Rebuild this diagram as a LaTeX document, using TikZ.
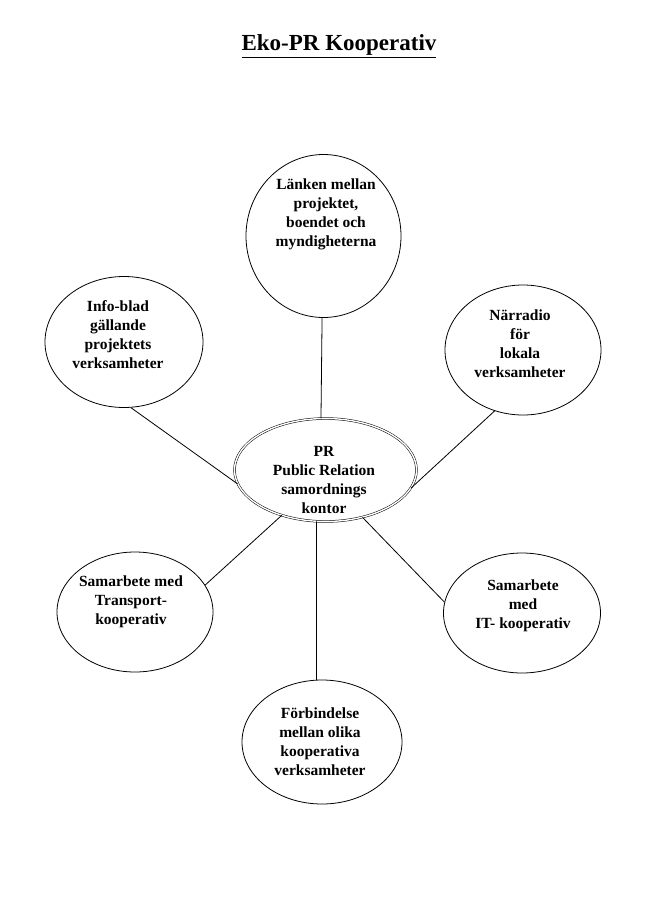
\documentclass[tikz,border=0pt]{standalone}
\usepackage{fontspec}
\setmainfont{Liberation Serif}
\usetikzlibrary{shapes.geometric}
\tikzstyle{bubble} = [draw=black, line width=0.8pt, ellipse, inner sep=0pt]
\tikzstyle{txt} = [align=center, font={\fontsize{15.5}{19}\selectfont\bfseries}]
\tikzstyle{link} = [draw=black, line width=0.8pt]

\begin{document}
\begin{tikzpicture}[x=1pt,y=-1pt]
    \useasboundingbox (0,0) rectangle (661,900);
    \node[font={\fontsize{23}{27}\selectfont\bfseries}](title) at (339,46){\underline{Eko-PR Kooperativ}};
    % ellipses
    \node[bubble,double,double distance=1.4pt,line width=0.5pt,minimum width=182pt,minimum height=103pt](pr) at (325.5,470){};
    \node[bubble,minimum width=155pt,minimum height=163pt](top) at (323.5,236){};
    \node[bubble,minimum width=158pt,minimum height=131pt](info) at (124,342){};
    \node[bubble,minimum width=156pt,minimum height=130pt](radio) at (523,350){};
    \node[bubble,minimum width=156pt,minimum height=120pt](trans) at (135,612){};
    \node[bubble,minimum width=157pt,minimum height=120pt](it) at (522,613){};
    \node[bubble,minimum width=160pt,minimum height=124pt](forb) at (322,742){};
    % texts
    \node[txt](pr-t) at (324,480){PR\\Public Relation\\samordnings\\kontor};
    \node[txt](top-t) at (326,214){Länken mellan\\projektet,\\boendet och\\myndigheterna};
    \node[txt](info-t) at (118,335){Info-blad\\gällande\\projektets\\verksamheter};
    \node[txt](radio-t) at (520,344){Närradio\\för\\lokala\\verksamheter};
    \node[txt](trans-t) at (131,602){Samarbete med\\Transport-\\kooperativ};
    \node[txt](it-t) at (523,606){Samarbete\\med\\IT- kooperativ};
    \node[txt](forb-t) at (320,742){Förbindelse\\mellan olika\\kooperativa\\verksamheter};
    % connectors
    \draw[link](top.-91.7)--(pr.95);
    \draw[link](info.-84.6)--(pr.-171);
    \draw[link](radio.-115)--(pr.-12.6);
    \draw[link](trans.21)--(pr.-134.7);
    \draw[link](forb.95.5)--(pr.-100);
    \draw[link](it.172)--(pr.-52);
\end{tikzpicture}
\end{document}
